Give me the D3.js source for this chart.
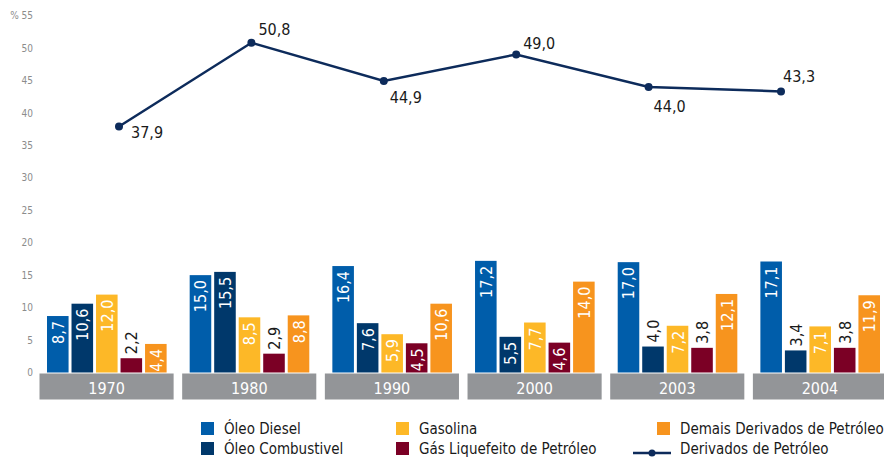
<!DOCTYPE html>
<html>
<head>
<meta charset="utf-8">
<script src="https://cdn.jsdelivr.net/npm/d3@7"></script>
<style>
  body { margin: 0; background: #fff; }
  text { font-family: "DejaVu Sans Condensed", "Liberation Sans Narrow", sans-serif; font-stretch: condensed; }
</style>
</head>
<body>
<div id="chart"></div>
<script>
// Data
const years = ["1970", "1980", "1990", "2000", "2003", "2004"];
const seriesNames = ["Óleo Diesel", "Óleo Combustivel", "Gasolina", "Gás Liquefeito de Petróleo", "Demais Derivados de Petróleo"];
const oleoDiesel = [8.7, 15.0, 16.4, 17.2, 17.0, 17.1];
const oleoCombustivel = [10.6, 15.5, 7.6, 5.5, 4.0, 3.4];
const gasolina = [12.0, 8.5, 5.9, 7.7, 7.2, 7.1];
const glp = [2.2, 2.9, 4.5, 4.6, 3.8, 3.8];
const demais = [4.4, 8.8, 10.6, 14.0, 12.1, 11.9];
const lineName = "Derivados de Petróleo";
const derivados = [37.9, 50.8, 44.9, 49.0, 44.0, 43.3];
const yTicks = [0, 5, 10, 15, 20, 25, 30, 35, 40, 45, 50, 55];

const seriesValues = [oleoDiesel, oleoCombustivel, gasolina, glp, demais];
const colors = ["#005daa", "#00386b", "#fdb827", "#7b0025", "#f7941e"];
const lineColor = "#0d2b5b";

const width = 884, height = 457;
const fmt = v => d3.format(".1f")(v).replace(".", ",");

const svg = d3.select("#chart").append("svg")
    .attr("width", width)
    .attr("height", height);

// Scales
const y = d3.scaleLinear().domain([0, 55]).range([372.5, 15.5]);

const xYear = d3.scaleBand()
    .domain(years)
    .range([39.5, 887])
    .paddingInner(0.06)
    .paddingOuter(0);

const xSeries = d3.scaleBand()
    .domain(d3.range(seriesNames.length))
    .range([7.5, xYear.bandwidth() - 7])
    .paddingInner(0.12);

const xLine = d3.scalePoint().domain(years).range([119, 781]);

// Y axis (labels only)
const yAxis = svg.append("g")
    .attr("transform", "translate(33,0)")
    .call(d3.axisLeft(y).tickValues(yTicks).tickSize(0).tickPadding(0)
        .tickFormat(d => d === 55 ? "% 55" : d));
yAxis.select(".domain").remove();
yAxis.selectAll("text")
    .attr("fill", "#8c8c8c")
    .style("font-size", "10px")
    .style("font-family", "'DejaVu Sans', sans-serif");

// Year bands
svg.selectAll(".band")
    .data(years)
    .enter()
    .append("rect")
    .attr("x", d => xYear(d))
    .attr("y", 373.5)
    .attr("width", xYear.bandwidth())
    .attr("height", 26)
    .attr("fill", "#939598");

svg.selectAll(".yearLabel")
    .data(years)
    .enter()
    .append("text")
    .attr("x", d => xYear(d) + xYear.bandwidth() / 2)
    .attr("y", 394)
    .attr("text-anchor", "middle")
    .attr("fill", "#fff")
    .style("font-size", "16px")
    .text(d => d);

// Bars
const barData = [];
years.forEach((yr, i) => {
    seriesValues.forEach((vals, s) => {
        barData.push({ year: yr, s: s, value: vals[i] });
    });
});

svg.selectAll(".bar")
    .data(barData)
    .enter()
    .append("rect")
    .attr("x", d => xYear(d.year) + xSeries(d.s))
    .attr("y", d => y(d.value))
    .attr("width", xSeries.bandwidth())
    .attr("height", d => y(0) - y(d.value))
    .attr("fill", d => colors[d.s]);

svg.selectAll(".barLabel")
    .data(barData)
    .enter()
    .append("text")
    .attr("transform", d => {
        const cx = xYear(d.year) + xSeries(d.s) + xSeries.bandwidth() / 2 + 6;
        const inside = d.value >= 4.2;
        const ty = inside ? y(d.value) + 5 : y(d.value) - 4;
        return `translate(${cx},${ty}) rotate(-90)`;
    })
    .attr("text-anchor", d => d.value >= 4.2 ? "end" : "start")
    .attr("fill", d => d.value >= 4.2 ? "#fff" : "#1a1a1a")
    .style("font-size", "16px")
    .text(d => fmt(d.value));

// Line
const line = d3.line()
    .x((d, i) => xLine(years[i]))
    .y(d => y(d));

svg.append("path")
    .datum(derivados)
    .attr("fill", "none")
    .attr("stroke", lineColor)
    .attr("stroke-width", 2.5)
    .attr("d", line);

svg.selectAll(".dot")
    .data(derivados)
    .enter()
    .append("circle")
    .attr("cx", (d, i) => xLine(years[i]))
    .attr("cy", d => y(d))
    .attr("r", 4)
    .attr("fill", lineColor);

// label offsets relative to each point
const labelOffsets = [[12, 12], [7, -8], [6, 22], [7, -5], [5, 25], [2, -9]];
svg.selectAll(".lineLabel")
    .data(derivados)
    .enter()
    .append("text")
    .attr("x", (d, i) => xLine(years[i]) + labelOffsets[i][0])
    .attr("y", (d, i) => y(d) + labelOffsets[i][1])
    .attr("fill", "#1a1a1a")
    .style("font-size", "16px")
    .text(d => fmt(d));

// Legend
const legendCols = [201, 396, 657];
const legendRows = [434, 454];
const legendItems = [
    { name: seriesNames[0], color: colors[0], col: 0, row: 0 },
    { name: seriesNames[1], color: colors[1], col: 0, row: 1 },
    { name: seriesNames[2], color: colors[2], col: 1, row: 0 },
    { name: seriesNames[3], color: colors[3], col: 1, row: 1 },
    { name: seriesNames[4], color: colors[4], col: 2, row: 0 },
    { name: lineName, color: lineColor, col: 2, row: 1, line: true }
];

const legend = svg.selectAll(".legend")
    .data(legendItems)
    .enter()
    .append("g")
    .attr("transform", d => `translate(${legendCols[d.col]},${legendRows[d.row]})`);

legend.filter(d => !d.line)
    .append("rect")
    .attr("x", 0)
    .attr("y", -12)
    .attr("width", 13)
    .attr("height", 13)
    .attr("fill", d => d.color);

legend.filter(d => d.line)
    .append("line")
    .attr("x1", -24).attr("x2", 14)
    .attr("y1", -1).attr("y2", -1)
    .attr("stroke", d => d.color)
    .attr("stroke-width", 2.5);

legend.filter(d => d.line)
    .append("circle")
    .attr("cx", -5).attr("cy", -1)
    .attr("r", 3.5)
    .attr("fill", d => d.color);

legend.append("text")
    .attr("x", 23)
    .attr("y", 0)
    .attr("fill", "#1a1a1a")
    .style("font-size", "15px")
    .text(d => d.name);
</script>
</body>
</html>
